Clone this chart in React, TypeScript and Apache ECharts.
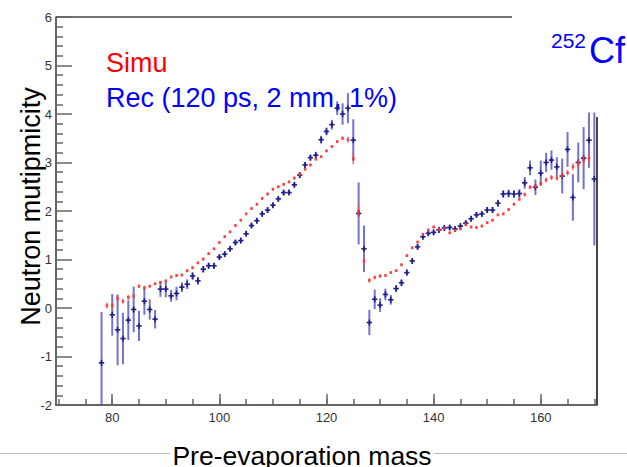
import React, { useEffect, useRef } from "react";
import * as echarts from "echarts";

// Reconstructed (Rec) points: mass, mean multiplicity, error
const recMass = [78, 80, 81, 82, 83, 84, 85, 86, 87, 88, 89, 90, 91, 92, 93, 94, 95, 96, 97, 98, 99,
  100, 101, 102, 103, 104, 105, 106, 107, 108, 109, 110, 111, 112, 113, 114, 115, 116, 117, 118, 119,
  120, 121, 122, 123, 124, 125, 126, 127, 128, 129, 130, 131, 132, 133, 134, 135, 136, 137, 138, 139,
  140, 141, 142, 143, 144, 145, 146, 147, 148, 149, 150, 151, 152, 153, 154, 155, 156, 157, 158, 159,
  160, 161, 162, 163, 164, 165, 166, 167, 168, 169, 170];
const recValue = [-1.13, -0.14, -0.45, -0.63, -0.25, -0.03, -0.37, 0.14, -0.03, -0.23, 0.39, 0.39, 0.25, 0.3, 0.43, 0.49, 0.66, 0.56, 0.8, 0.87, 0.87,
  1.05, 1.11, 1.22, 1.35, 1.39, 1.53, 1.7, 1.8, 1.94, 2.02, 2.12, 2.25, 2.38, 2.38, 2.54, 2.74, 2.95, 3.1, 3.15, 3.47,
  3.64, 3.78, 4.12, 4.0, 4.12, 3.46, 1.95, 1.22, -0.3, 0.18, 0.06, 0.28, 0.17, 0.4, 0.52, 0.73, 0.97, 1.26, 1.47, 1.54,
  1.56, 1.61, 1.65, 1.66, 1.63, 1.69, 1.75, 1.84, 1.92, 1.94, 2.02, 2.02, 2.16, 2.35, 2.36, 2.35, 2.36, 2.58, 2.89, 2.49,
  2.78, 3.0, 3.05, 2.91, 2.72, 3.27, 2.28, 3.0, 3.09, 3.46, 2.66];
const recError = [1.05, 0.43, 0.73, 0.53, 0.41, 0.47, 0.31, 0.28, 0.21, 0.19, 0.16, 0.17, 0.12, 0.14, 0.1, 0.1, 0.08, 0.08, 0.07, 0.06, 0.06,
  0.05, 0.05, 0.05, 0.05, 0.05, 0.05, 0.05, 0.05, 0.05, 0.05, 0.05, 0.05, 0.05, 0.05, 0.05, 0.06, 0.06, 0.06, 0.07, 0.08,
  0.08, 0.1, 0.14, 0.22, 0.31, 0.43, 0.64, 0.48, 0.26, 0.2, 0.14, 0.12, 0.1, 0.07, 0.07, 0.06, 0.05, 0.05, 0.05, 0.05,
  0.05, 0.05, 0.05, 0.05, 0.05, 0.05, 0.05, 0.05, 0.05, 0.05, 0.06, 0.06, 0.07, 0.08, 0.08, 0.08, 0.09, 0.12, 0.15, 0.16,
  0.26, 0.2, 0.2, 0.2, 0.36, 0.36, 0.48, 0.41, 0.64, 0.57, 1.37];

// Simulated (Simu) points
const simMass = [79, 80, 81, 82, 83, 84, 85, 86, 87, 88, 89, 90, 91, 92, 93, 94, 95, 96, 97, 98, 99,
  100, 101, 102, 103, 104, 105, 106, 107, 108, 109, 110, 111, 112, 113, 114, 115, 116, 117, 118, 119,
  120, 121, 122, 123, 124, 125, 126, 127, 128, 129, 130, 131, 132, 133, 134, 135, 136, 137, 138, 139,
  140, 141, 142, 143, 144, 145, 146, 147, 148, 149, 150, 151, 152, 153, 154, 155, 156, 157, 158, 159,
  160, 161, 162, 163, 164, 165, 166, 167, 168, 169];
const simValue = [0.05, 0.05, 0.2, 0.14, 0.22, 0.25, 0.45, 0.42, 0.45, 0.5, 0.53, 0.56, 0.64, 0.67, 0.68, 0.77, 0.83, 0.93, 1.01, 1.12, 1.22,
  1.35, 1.47, 1.57, 1.7, 1.81, 1.94, 2.05, 2.14, 2.26, 2.35, 2.45, 2.5, 2.55, 2.6, 2.68, 2.76, 2.86, 2.95, 3.07, 3.12,
  3.24, 3.33, 3.43, 3.5, 3.47, 3.08, 2.0, 0.97, 0.57, 0.63, 0.66, 0.67, 0.73, 0.77, 0.89, 1.08, 1.24, 1.36, 1.52, 1.61,
  1.67, 1.62, 1.64, 1.55, 1.6, 1.63, 1.72, 1.67, 1.66, 1.69, 1.76, 1.81, 1.92, 1.94, 2.03, 2.14, 2.24, 2.34, 2.49, 2.51,
  2.57, 2.64, 2.69, 2.68, 2.74, 2.79, 2.91, 2.98, 3.05, 3.09];
const simError = [0.06, 0.06, 0.06, 0.05, 0.05, 0.05, 0.04, 0.04, 0.03, 0.03, 0.03, 0.03, 0.03, 0.03, 0.03, 0.03, 0.03, 0.03, 0.03, 0.03, 0.03,
  0.03, 0.03, 0.03, 0.03, 0.03, 0.03, 0.03, 0.03, 0.03, 0.03, 0.03, 0.03, 0.03, 0.03, 0.03, 0.03, 0.03, 0.03, 0.03, 0.03,
  0.03, 0.03, 0.03, 0.04, 0.06, 0.12, 0.12, 0.08, 0.05, 0.04, 0.04, 0.03, 0.03, 0.03, 0.03, 0.03, 0.03, 0.03, 0.03, 0.03,
  0.03, 0.03, 0.03, 0.03, 0.03, 0.03, 0.03, 0.03, 0.03, 0.03, 0.03, 0.03, 0.03, 0.03, 0.03, 0.03, 0.03, 0.04, 0.04, 0.04,
  0.05, 0.05, 0.05, 0.05, 0.06, 0.06, 0.07, 0.08, 0.1, 0.1];

const xMajorTicks = [80, 100, 120, 140, 160];
const xMinorTicks = [70, 75, 80, 85, 90, 95, 100, 105, 110, 115, 120, 125, 130, 135, 140, 145, 150, 155, 160, 165, 170];

const FONT = "'Liberation Sans', Arial, Helvetica, sans-serif";

export default function App() {
  const ref = useRef<HTMLDivElement>(null);
  useEffect(() => {
    if (!ref.current) return;
    const chart = echarts.init(ref.current, undefined, { renderer: "svg" });
    const recData = recMass.map((m, i) => [m, recValue[i], recError[i]]);
    const simData = simMass.map((m, i) => [m, simValue[i], simError[i]]);
    const axisCommonX = {
      type: "value" as const,
      min: 69.5,
      max: 170.5,
      position: "bottom" as const,
      splitLine: { show: false },
    };
    chart.setOption({
      animation: false,
      backgroundColor: "#ffffff",
      grid: { left: 56, right: 30, top: 17, bottom: 62, containLabel: false },
      xAxis: [
        {
          ...axisCommonX,
          axisLine: { show: true, onZero: false, lineStyle: { color: "#333", width: 1.5 } },
          axisTick: { show: true, inside: true, length: 11, customValues: xMajorTicks, lineStyle: { color: "#666", width: 1.5 } },
          axisLabel: { show: true, customValues: xMajorTicks, margin: 6, color: "#333", fontSize: 13, fontFamily: FONT },
        },
        {
          ...axisCommonX,
          axisLine: { show: false, onZero: false },
          axisTick: { show: true, inside: true, length: 6, customValues: xMinorTicks, lineStyle: { color: "#666", width: 1.5 } },
          axisLabel: { show: false },
        },
      ],
      yAxis: {
        type: "value",
        min: -2,
        max: 6,
        interval: 1,
        splitLine: { show: false },
        axisLine: { show: true, onZero: false, lineStyle: { color: "#333", width: 1.5 } },
        axisTick: { show: true, inside: true, length: 16, lineStyle: { color: "#666", width: 1.5 } },
        minorTick: { show: true, splitNumber: 5, length: 7, lineStyle: { color: "#666", width: 1.5 } },
        axisLabel: { margin: 4, color: "#333", fontSize: 13, fontFamily: FONT },
      },
      series: [
        {
          type: "custom",
          name: "Rec",
          xAxisIndex: 0,
          clip: true,
          data: recData,
          encode: { x: 0, y: 1 },
          renderItem: (params: any, api: any) => {
            const m = api.value(0);
            const v = api.value(1);
            const e = api.value(2);
            const c = api.coord([m, v]);
            const top = api.coord([m, v + e]);
            const bot = api.coord([m, v - e]);
            const l = api.coord([m - 0.5, v]);
            const r = api.coord([m + 0.5, v]);
            return {
              type: "group",
              children: [
                { type: "line", shape: { x1: c[0], y1: top[1], x2: c[0], y2: bot[1] }, style: { stroke: "rgba(55,55,185,0.7)", lineWidth: 2 } },
                { type: "line", shape: { x1: l[0], y1: c[1], x2: r[0], y2: c[1] }, style: { stroke: "#1e1e8c", lineWidth: 1.6 } },
                { type: "line", shape: { x1: c[0], y1: c[1] - 3, x2: c[0], y2: c[1] + 3 }, style: { stroke: "#1e1e8c", lineWidth: 1.6 } },
              ],
            };
          },
        },
        {
          type: "custom",
          name: "Simu",
          xAxisIndex: 0,
          clip: true,
          data: simData,
          encode: { x: 0, y: 1 },
          renderItem: (params: any, api: any) => {
            const m = api.value(0);
            const v = api.value(1);
            const e = api.value(2);
            const c = api.coord([m, v]);
            const top = api.coord([m, v + e]);
            const bot = api.coord([m, v - e]);
            return {
              type: "group",
              children: [
                { type: "line", shape: { x1: c[0], y1: top[1], x2: c[0], y2: bot[1] }, style: { stroke: "rgba(255,70,70,0.75)", lineWidth: 1.6 } },
                { type: "rect", shape: { x: c[0] - 1.3, y: c[1] - 1.3, width: 2.6, height: 2.6 }, style: { fill: "rgba(255,50,50,0.85)" } },
              ],
            };
          },
        },
      ],
      graphic: [
        { type: "line", shape: { x1: 56, y1: 17, x2: 512, y2: 17 }, style: { stroke: "#444", lineWidth: 1.5 } },
        { type: "line", shape: { x1: 597, y1: 117, x2: 597, y2: 405 }, style: { stroke: "#333", lineWidth: 1.8 } },
        { type: "line", shape: { x1: 0, y1: 453.5, x2: 170, y2: 453.5 }, style: { stroke: "#bbb", lineWidth: 1 } },
        { type: "line", shape: { x1: 434, y1: 453.5, x2: 627, y2: 453.5 }, style: { stroke: "#bbb", lineWidth: 1 } },
        {
          type: "text", x: 106, y: 63,
          style: { text: "Simu", fill: "#ff0000", font: `27px ${FONT}`, textAlign: "left", textVerticalAlign: "middle" },
        },
        {
          type: "text", x: 106, y: 98,
          style: { text: "Rec (120 ps, 2 mm, 1%)", fill: "#0000ff", font: `27px ${FONT}`, textAlign: "left", textVerticalAlign: "middle" },
        },
        {
          type: "text", x: 551, y: 40,
          style: { text: "252", fill: "#0000ff", font: `21px ${FONT}`, textAlign: "left", textVerticalAlign: "middle" },
        },
        {
          type: "text", x: 589, y: 50.5,
          style: { text: "Cf", fill: "#0000ff", font: `36px ${FONT}`, textAlign: "left", textVerticalAlign: "middle" },
        },
        {
          type: "text", x: 31, y: 206.5, rotation: Math.PI / 2,
          style: { text: "Neutron mutipmicity", fill: "#000", font: `27px ${FONT}`, textAlign: "center", textVerticalAlign: "middle" },
        },
        {
          type: "text", x: 302, y: 456.3,
          style: { text: "Pre-evaporation mass", fill: "#000", font: `26.5px ${FONT}`, textAlign: "center", textVerticalAlign: "middle" },
        },
      ],
    });
    return () => chart.dispose();
  }, []);
  return <div ref={ref} style={{ position: "absolute", left: 0, top: 0, width: 627, height: 467 }} />;
}
